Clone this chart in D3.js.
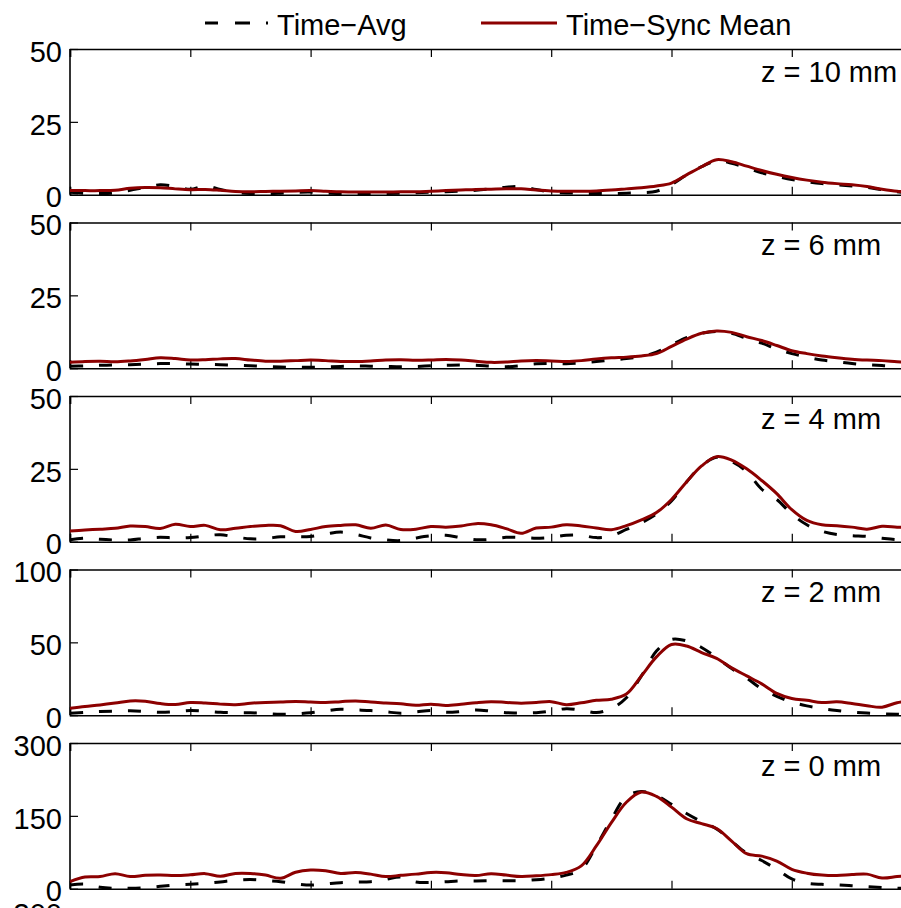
<!DOCTYPE html>
<html>
<head>
<meta charset="utf-8">
<script src="https://cdn.jsdelivr.net/npm/d3@7"></script>
<style>
  body { margin: 0; background: #fff; }
  svg { display: block; font-family: "Liberation Sans", Arial, sans-serif; }
</style>
</head>
<body>
<div id="chart"></div>
<script>
// x positions (axis units, one tick per unit)
var xs = d3.range(57).map(function (i) { return i * 0.125; });

var panelLabels = ["z = 10 mm", "z = 6 mm", "z = 4 mm", "z = 2 mm", "z = 0 mm"];
var yMax = [50, 50, 50, 100, 300];

// Time-Sync Mean (red) per panel
var syncZ10 = [1.4,1.4,1.4,1.5,2.2,2.5,2.4,2.0,1.7,1.8,1.5,1.1,1.0,1.1,1.2,1.3,1.4,1.2,1.0,0.9,0.9,0.9,1.0,1.0,1.2,1.4,1.6,1.8,1.9,2.0,2.0,1.6,1.3,1.2,1.2,1.3,1.6,2.0,2.4,3.0,4.0,6.8,9.6,12.0,11.3,9.8,8.3,7.0,5.9,5.0,4.3,3.8,3.4,2.8,1.9,1.2,0.9];
var syncZ6 = [2.0,2.3,2.4,2.2,2.5,3.0,3.6,3.3,2.8,2.9,3.2,3.3,2.8,2.4,2.4,2.6,2.8,2.6,2.3,2.3,2.5,2.8,2.9,2.7,2.8,3.0,2.8,2.4,2.0,2.1,2.5,2.6,2.5,2.3,2.6,3.2,3.6,3.8,4.2,5.0,7.5,10.0,12.0,12.8,12.3,10.8,9.5,7.8,6.0,5.0,4.2,3.6,3.1,2.8,2.6,2.2,1.9];
var syncZ4 = [3.7,4.0,4.3,4.6,5.4,5.2,4.5,6.0,5.2,5.6,4.1,4.6,5.2,5.6,5.5,3.5,4.2,5.2,5.6,5.8,4.6,5.7,4.2,4.3,5.2,5.0,5.4,6.2,5.8,4.5,2.9,4.7,5.0,5.8,5.4,4.7,4.1,5.5,7.5,10.0,14.5,20.5,26.0,29.2,28.0,25.0,21.0,16.5,11.0,7.3,5.8,5.5,5.0,4.3,5.3,5.0,4.8];
var syncZ2 = [4.8,6.0,7.0,8.3,9.8,9.6,8.0,7.3,8.7,8.3,7.6,7.2,8.2,8.8,9.0,9.4,9.0,8.7,9.3,9.8,9.0,8.4,7.8,6.8,7.6,6.6,7.5,8.6,9.3,8.8,8.2,8.7,9.3,7.2,8.5,10.2,11.0,14.5,27.0,40.0,48.5,47.5,43.0,39.0,32.5,27.0,21.5,15.0,11.5,10.2,8.7,9.2,8.0,6.5,5.5,8.6,10.0];
var syncZ0 = [14.5,24.0,25.0,31.0,25.0,27.5,28.0,27.0,28.5,31.0,25.5,31.5,31.5,28.0,21.5,34.0,38.5,37.0,31.5,33.5,30.0,25.0,27.5,30.0,33.5,33.0,29.0,27.0,31.0,28.0,25.0,26.5,29.0,33.5,47.0,88.0,136.0,178.0,199.0,190.0,168.0,144.0,134.0,124.0,98.0,72.0,67.0,57.0,40.0,32.0,28.0,27.0,29.0,30.0,22.0,25.0,28.0];

// Time-Avg (black dashed) per panel
var avgZ10 = [0.8,0.5,0.4,0.6,1.5,2.5,3.4,2.8,1.9,3.0,1.8,0.8,0.4,0.3,0.5,0.8,0.9,0.6,0.3,0.2,0.3,0.4,0.5,0.7,0.9,1.0,1.2,1.5,2.0,2.6,2.8,1.8,0.9,0.6,0.5,0.4,0.4,0.5,0.7,1.2,3.5,6.8,9.6,11.6,10.8,9.2,7.5,6.3,5.2,4.4,3.8,3.4,3.0,2.5,1.7,1.0,0.6];
var avgZ6 = [0.7,0.8,1.0,1.1,1.2,1.4,1.6,1.6,1.4,1.3,1.2,1.0,0.8,0.6,0.4,0.3,0.3,0.4,0.6,0.8,0.7,0.6,0.5,0.6,0.8,1.0,1.1,1.0,0.7,0.5,0.9,1.5,1.6,1.5,1.8,2.3,2.8,3.3,4.0,5.5,8.0,10.5,12.0,12.6,12.0,10.2,8.6,6.6,5.0,3.8,2.8,2.2,1.6,1.2,0.9,0.7,0.6];
var avgZ4 = [0.7,1.2,0.8,0.6,0.6,1.2,1.5,1.3,1.4,2.0,2.4,1.6,1.0,1.1,1.7,1.7,1.8,2.6,3.3,2.5,1.3,0.6,0.4,1.3,2.0,2.2,1.4,0.7,0.8,1.5,1.5,1.2,1.5,2.2,2.2,1.4,2.0,4.2,6.5,9.5,14.0,20.5,26.0,29.0,27.5,24.0,18.0,14.5,9.5,5.8,3.6,2.5,2.1,1.8,1.2,0.7,0.5];
var avgZ2 = [1.4,2.0,2.5,2.8,3.0,2.6,2.0,2.4,3.2,2.8,2.0,1.8,1.7,1.2,0.7,1.0,1.7,3.0,4.1,3.6,3.2,2.3,1.4,2.2,3.2,2.0,2.5,3.6,2.8,1.7,1.6,1.7,2.8,4.5,3.5,1.8,4.5,12.0,27.0,44.0,52.0,51.0,46.5,39.5,32.0,25.5,18.0,13.0,9.0,6.4,4.5,3.2,2.2,1.5,1.0,0.7,0.6];
var avgZ0 = [7.6,9.5,3.0,0.8,0.8,2.0,5.0,7.5,9.0,11.0,14.0,17.5,19.0,17.0,14.5,10.0,7.6,10.0,12.4,13.5,14.5,19.0,24.0,14.0,13.0,14.5,16.0,16.0,16.5,16.5,16.5,18.5,22.0,28.0,40.0,88.0,143.0,190.0,200.0,192.0,174.0,155.0,138.0,123.0,98.0,73.0,58.0,40.0,20.0,11.5,9.0,7.8,6.0,4.2,2.5,1.0,0.5];

var syncSeries = [syncZ10, syncZ6, syncZ4, syncZ2, syncZ0];
var avgSeries = [avgZ10, avgZ6, avgZ4, avgZ2, avgZ0];

var width = 901, height = 908;
var left = 70, top0 = 49, pitch = 173.5, ph = 145.7;
var red = "#8c0000";

var svg = d3.select("#chart").append("svg")
    .attr("width", width)
    .attr("height", height);

var x = d3.scaleLinear().domain([0, 7]).range([left, left + 7 * 120.3]);

svg.append("clipPath").attr("id", "clip")
  .append("rect").attr("x", left).attr("y", 0).attr("width", width - left).attr("height", height);

function drawPanel(i, yTop) {
    var y = d3.scaleLinear().domain([0, yMax[i]]).range([yTop + ph, yTop]);
    var g = svg.append("g");

    // y axis with inward ticks
    var ya = g.append("g")
        .attr("transform", "translate(" + left + ",0)")
        .call(d3.axisRight(y).tickValues([0, yMax[i] / 2, yMax[i]]).tickSize(8).tickPadding(-16).tickFormat(d3.format("d")));
    ya.select(".domain").remove();
    ya.selectAll("line").attr("stroke", "#000").attr("stroke-width", 1.2);
    ya.selectAll("text")
        .attr("text-anchor", "end")
        .attr("dy", "0.42em")
        .attr("font-size", 29)
        .attr("fill", "#000")
        .attr("font-family", "Liberation Sans, Arial, sans-serif");

    if (i > 4) return;

    // top and bottom x axes, inward ticks, no labels
    var xt = g.append("g")
        .attr("transform", "translate(0," + yTop + ")")
        .call(d3.axisBottom(x).ticks(7).tickSize(8).tickFormat(""));
    var xb = g.append("g")
        .attr("transform", "translate(0," + (yTop + ph) + ")")
        .call(d3.axisTop(x).ticks(7).tickSize(8).tickFormat(""));
    [xt, xb].forEach(function (a) {
        a.select(".domain").attr("stroke", "#000").attr("stroke-width", 1.6);
        a.selectAll("line").attr("stroke", "#000").attr("stroke-width", 1.2);
    });

    // left border
    g.append("line")
        .attr("x1", left).attr("x2", left)
        .attr("y1", yTop).attr("y2", yTop + ph)
        .attr("stroke", "#000").attr("stroke-width", 1.6);

    var line = d3.line()
        .x(function (d, j) { return x(xs[j]); })
        .y(function (d) { return y(d); })
        .curve(d3.curveCatmullRom);

    var lines = g.append("g").attr("clip-path", "url(#clip)");
    lines.append("path")
        .datum(avgSeries[i])
        .attr("d", line)
        .attr("fill", "none")
        .attr("stroke", "#000")
        .attr("stroke-width", 3)
        .attr("stroke-dasharray", "13,16");
    lines.append("path")
        .datum(syncSeries[i])
        .attr("d", line)
        .attr("fill", "none")
        .attr("stroke", red)
        .attr("stroke-width", 3);

    g.append("text")
        .attr("x", 761)
        .attr("y", yTop + 32.5)
        .attr("font-size", 29)
        .text(panelLabels[i]);
}

for (var i = 0; i < 5; i++) drawPanel(i, top0 + i * pitch);
// next panel starts just below the window; only its top label peeks in
yMax.push(300);
drawPanel(5, 911);

// legend
var lg = svg.append("g");
lg.append("line")
    .attr("x1", 205).attr("x2", 269).attr("y1", 23).attr("y2", 23)
    .attr("stroke", "#000").attr("stroke-width", 3)
    .attr("stroke-dasharray", "13,17,15,16,2");
lg.append("text").attr("x", 277).attr("y", 35).attr("font-size", 29).text("Time\u2212Avg");
lg.append("line")
    .attr("x1", 481).attr("x2", 557).attr("y1", 23).attr("y2", 23)
    .attr("stroke", red).attr("stroke-width", 3);
lg.append("text").attr("x", 566).attr("y", 35).attr("font-size", 29).text("Time\u2212Sync Mean");
</script>
</body>
</html>
